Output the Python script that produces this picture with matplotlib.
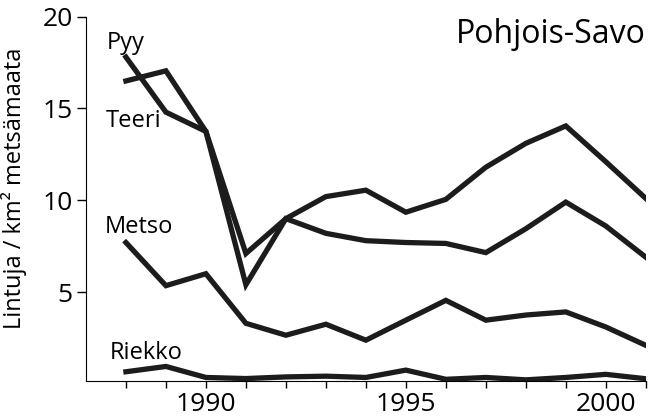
import numpy as np
import matplotlib
matplotlib.use('Agg')
import matplotlib.pyplot as plt

plt.rcParams['font.family'] = ['Open Sans', 'DejaVu Sans']

years = list(range(1988, 2002))
pyy = [17.8, 14.8, 13.75, 7.1, 9.0, 10.2, 10.55, 9.35, 10.05, 11.8, 13.1, 14.05, 12.1, 10.1]
teeri = [16.5, 17.05, 13.75, 5.4, 9.0, 8.2, 7.8, 7.7, 7.65, 7.15, 8.45, 9.9, 8.6, 6.9]
metso = [7.7, 5.35, 6.0, 3.3, 2.65, 3.25, 2.38, 3.47, 4.55, 3.47, 3.75, 3.92, 3.1, 2.1]
riekko = [0.66, 0.95, 0.35, 0.29, 0.38, 0.42, 0.35, 0.75, 0.25, 0.35, 0.22, 0.35, 0.52, 0.28]

labels = ["Pyy", "Teeri", "Metso", "Riekko"]
label_pos = [(1987.52, 18.55), (1987.5, 14.3), (1987.48, 8.55), (1987.6, 1.7)]
xtick_labels = {1990: "1990", 1995: "1995", 2000: "2000"}

fig = plt.figure(figsize=(6.51, 4.17), dpi=100)
ax = fig.add_axes([0.132, 0.086, 0.86, 0.874])

for s in [pyy, teeri, metso, riekko]:
    ax.plot(years, s, color='#1c1c1c', lw=3.8, solid_joinstyle='miter')

for t, (x, y) in zip(labels, label_pos):
    ax.text(x, y, t, fontsize=17, va='center', ha='left')

ax.text(1.0, 0.928, "Pohjois-Savo", transform=ax.transAxes, fontsize=23,
        ha='right', va='baseline')

ax.set_xlim(1987, 2001)
ax.set_ylim(0.15, 20)
ax.set_xticks(years)
ax.set_xticklabels([xtick_labels.get(y, "") for y in years])
ax.set_yticks([5, 10, 15, 20])
ax.tick_params(axis='x', direction='out', length=5, width=1, labelsize=19, pad=3)
ax.tick_params(axis='y', direction='out', length=6.5, width=1, labelsize=19, pad=3)
ax.spines['top'].set_visible(False)
ax.spines['right'].set_visible(False)
ax.set_ylabel("Lintuja / km² metsämaata", fontsize=17)
ax.yaxis.set_label_coords(-0.105, 0.53)

plt.savefig("out.png", dpi=100)
